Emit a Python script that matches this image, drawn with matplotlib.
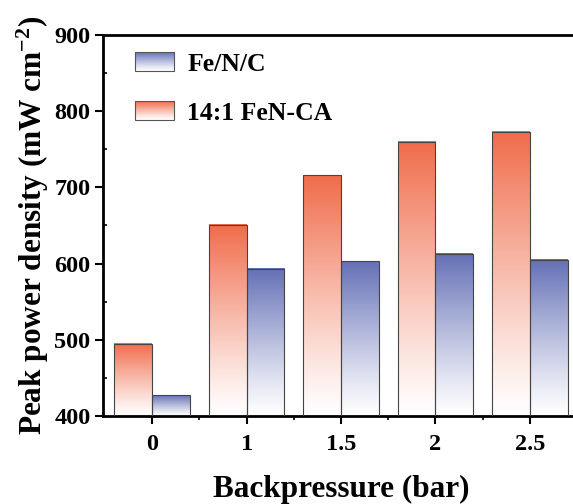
import numpy as np
import matplotlib
matplotlib.use('Agg')
import matplotlib.pyplot as plt
from matplotlib.colors import LinearSegmentedColormap
from matplotlib.legend_handler import HandlerBase
from matplotlib.image import BboxImage
from matplotlib.transforms import Bbox, TransformedBbox
from matplotlib.patches import Rectangle

# data
pressures = ['0', '1', '1.5', '2', '2.5']
fenc = [427, 593, 603, 613, 605]          # Fe/N/C
fenca = [495, 651, 716, 760, 773]         # 14:1 FeN-CA

plt.rcParams['font.family'] = ['Liberation Serif', 'DejaVu Serif']
plt.rcParams['font.weight'] = 'bold'
plt.rcParams['mathtext.fontset'] = 'custom'
plt.rcParams['mathtext.rm'] = 'Liberation Serif:bold'
plt.rcParams['mathtext.bf'] = 'Liberation Serif:bold'
plt.rcParams['mathtext.default'] = 'bf'

orange = '#f06c4b'
blue = '#6470b6'
cm_orange = LinearSegmentedColormap.from_list('o', ['white', orange])
cm_blue = LinearSegmentedColormap.from_list('b', ['white', blue])
grad = np.linspace(0, 1, 256).reshape(-1, 1) ** 1.15


class GradHandler(HandlerBase):
    def __init__(self, cmap):
        super().__init__()
        self.cmap = cmap

    def create_artists(self, legend, orig_handle, xdescent, ydescent,
                       width, height, fontsize, trans):
        bb = Bbox.from_bounds(-xdescent, -ydescent, width, height)
        img = BboxImage(TransformedBbox(bb, trans), cmap=self.cmap,
                        interpolation='bilinear', origin='lower')
        img.set_data(grad * np.ones((1, 2)))
        img.set_clim(0, 1)
        rect = Rectangle((-xdescent, -ydescent), width, height, fc='none',
                         ec='#555555', lw=0.8, transform=trans)
        return [img, rect]


fig = plt.figure(figsize=(5.73, 5.04), dpi=100)
ax = fig.add_axes([0.1798, 0.1746, 0.8307, 0.756])

x = np.arange(len(pressures))
w = 0.40
b1 = ax.bar(x - w, fenca, w, align='edge', fc='none', ec='#444444', lw=0.8, zorder=3)
b2 = ax.bar(x, fenc, w, align='edge', fc='none', ec='#444444', lw=0.8, zorder=3)

ax.set_ylim(400, 900)
ax.set_xlim(-0.52, 4.52)

for bars, cmap in ((b1, cm_orange), (b2, cm_blue)):
    for r in bars:
        x0, w0, h0 = r.get_x(), r.get_width(), r.get_height()
        ax.imshow(grad, cmap=cmap, origin='lower', aspect='auto',
                  extent=(x0, x0 + w0, 400, h0), vmin=0, vmax=1,
                  interpolation='bilinear', zorder=2)

ax.set_xticks(x)
ax.set_xticklabels(pressures, fontsize=17.5, fontweight='bold')
ax.set_xticks(x[:-1] + 0.5, minor=True)
ax.set_yticks([400, 500, 600, 700, 800, 900])
ax.set_yticklabels(['400', '500', '600', '700', '800', '900'], fontsize=17.5, fontweight='bold')
ax.set_yticks([450, 550, 650, 750, 850], minor=True)

ax.tick_params(axis='both', which='major', direction='out', length=6, width=1.5)
ax.tick_params(axis='x', which='major', pad=7)
ax.tick_params(axis='y', which='major', pad=3)
ax.tick_params(axis='y', which='minor', direction='in', length=3, width=1.2)
ax.tick_params(axis='x', which='minor', direction='out', length=3, width=1.2)

for s in ax.spines.values():
    s.set_linewidth(2)

ax.set_xlabel('Backpressure (bar)', fontsize=22.5, fontweight='bold', labelpad=14)
ax.set_ylabel('Peak power density (mW cm$^{-2}$)', fontsize=22.5, fontweight='bold', labelpad=2)

h1 = Rectangle((0, 0), 1, 1)
h2 = Rectangle((0, 0), 1, 1)
ax.legend([h1, h2], ['Fe/N/C', '14:1 FeN-CA'],
          handler_map={h1: GradHandler(cm_blue), h2: GradHandler(cm_orange)},
          loc='upper left', bbox_to_anchor=(22 / 476, 1 - 7 / 381), frameon=False,
          prop={'size': 18.5, 'weight': 'bold'}, handlelength=1.52, handleheight=0.74,
          labelspacing=1.0, handletextpad=0.5, borderaxespad=0)

fig.savefig('out.png', dpi=100)
